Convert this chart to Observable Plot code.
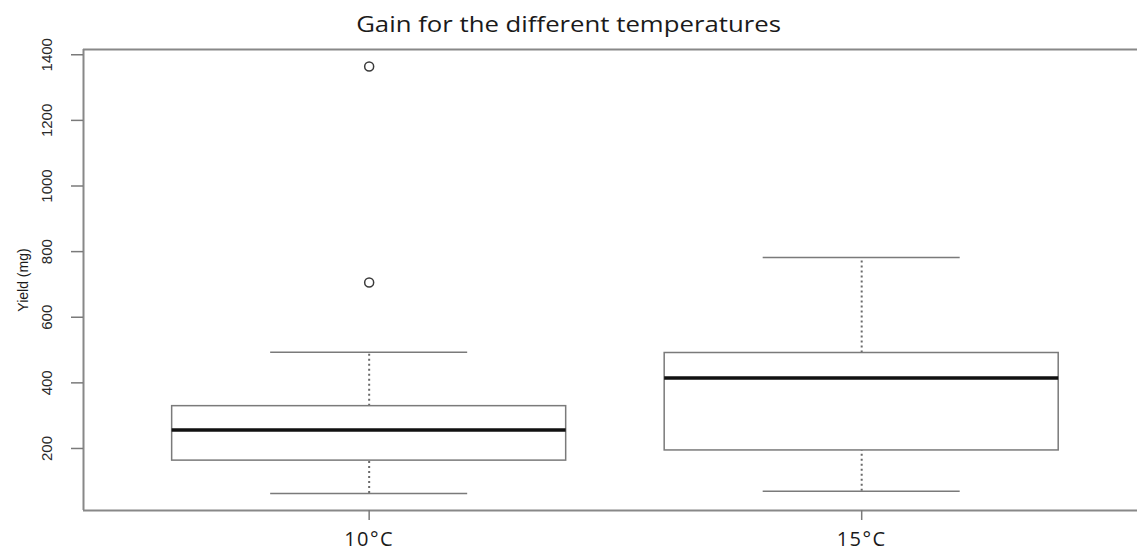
<!DOCTYPE html>
<html>
<head>
<meta charset="utf-8">
<script src="https://cdn.jsdelivr.net/npm/d3@7"></script>
<script src="https://cdn.jsdelivr.net/npm/@observablehq/plot@0.6"></script>
<style>
  html, body { margin: 0; padding: 0; background: #ffffff; overflow: hidden; }
  #wrap { position: relative; width: 1137px; height: 551px; }
  #title { position: absolute; left: 0; top: 9px; width: 1137px; text-align: center;
           font-family: "Open Sans", sans-serif; font-size: 22px; line-height: 28px; color: #1a1a1a; }
  #title span { display: inline-block; transform: scaleX(1.17); }
  .xlab text { letter-spacing: 1.5px; }
</style>
</head>
<body>
<div id="wrap"><div id="title"><span>Gain for the different temperatures</span></div></div>
<script>
// ---- data ----
const categories    = ["10°C", "15°C"];
const lowerWhisker  = [63, 70];
const q1            = [163, 194];
const median        = [256, 415];
const q3            = [329, 491];
const upperWhisker  = [493, 782];
const outlierGroup  = [1, 1];          // 1-based position of the group
const outlierValue  = [706, 1364];
const yTicks        = [200, 400, 600, 800, 1000, 1200, 1400];
const yLabel        = "Yield (mg)";

// ---- tables built from the arrays ----
const boxes = categories.map((c, i) => ({
  pos: i + 1, cat: c,
  lo: lowerWhisker[i], q1: q1[i], med: median[i], q3: q3[i], hi: upperWhisker[i]
}));
const outliers = outlierValue.map((v, i) => ({pos: outlierGroup[i], v}));

// R-style 4% extension of the data range
const allVals = [...lowerWhisker, ...upperWhisker, ...outlierValue];
const yMin = d3.min(allVals), yMax = d3.max(allVals);
const yPad = (yMax - yMin) * 0.04;
const yDomain = [yMin - yPad, yMax + yPad];
const xDomain = [0.42, 2.56]; // R's 0.5..2.5 extended by 4%, right side cropped by the picture

const lineGray = "#7a7a7a";

const chart = Plot.plot({
  width: 1137,
  height: 551,
  marginTop: 49,
  marginBottom: 41,
  marginLeft: 83,
  marginRight: 0,
  style: {fontFamily: "Liberation Sans, Arial, sans-serif", background: "transparent"},
  x: {domain: xDomain, label: null},
  y: {domain: yDomain, label: null},
  marks: [
    // frame (left, top, bottom)
    Plot.ruleX([xDomain[0]], {y1: yDomain[0], y2: yDomain[1], stroke: "#888", strokeWidth: 2}),
    Plot.ruleY([yDomain[1]], {x1: xDomain[0], x2: xDomain[1], stroke: "#888", strokeWidth: 2}),
    Plot.ruleY([yDomain[0]], {x1: xDomain[0], x2: xDomain[1], stroke: "#888", strokeWidth: 2}),
    // y axis ticks & labels
    Plot.axisY(yTicks, {anchor: "left", tickSize: 12, text: null, stroke: "#7a7a7a", strokeWidth: 1.5, label: null}),
    Plot.text(yTicks, {x: xDomain[0], y: d => d, text: d => String(d), rotate: -90, dx: -36,
      fontSize: 15, fill: "#2a2a2a", textAnchor: "middle"}),
    Plot.text([yLabel], {frameAnchor: "left", rotate: -90, dx: -60, fontSize: 14, fill: "#1a1a1a", textAnchor: "middle"}),
    // x axis
    Plot.axisX(boxes.map(d => d.pos), {anchor: "bottom", tickSize: 10, tickPadding: 11,
      tickFormat: p => categories[p - 1], fontSize: 20, fontFamily: "Open Sans, sans-serif",
      fill: "#1a1a1a", stroke: "#7a7a7a", strokeWidth: 1.5, label: null, className: "xlab"}),
    // whiskers (dotted)
    Plot.ruleX(boxes, {x: "pos", y1: "q3", y2: "hi", stroke: "#6a6a6a", strokeWidth: 2, strokeDasharray: "2,3"}),
    Plot.ruleX(boxes, {x: "pos", y1: "lo", y2: "q1", stroke: "#6a6a6a", strokeWidth: 2, strokeDasharray: "2,3"}),
    // whisker caps
    Plot.ruleY(boxes, {y: "hi", x1: d => d.pos - 0.2, x2: d => d.pos + 0.2, stroke: lineGray, strokeWidth: 1.5}),
    Plot.ruleY(boxes, {y: "lo", x1: d => d.pos - 0.2, x2: d => d.pos + 0.2, stroke: lineGray, strokeWidth: 1.5}),
    // boxes
    Plot.rect(boxes, {x1: d => d.pos - 0.4, x2: d => d.pos + 0.4, y1: "q1", y2: "q3",
      fill: "white", stroke: lineGray, strokeWidth: 1.5}),
    // medians
    Plot.ruleY(boxes, {y: "med", x1: d => d.pos - 0.4, x2: d => d.pos + 0.4, stroke: "#111", strokeWidth: 3.5}),
    // outliers
    Plot.dot(outliers, {x: "pos", y: "v", r: 4.5, stroke: "#3a3a3a", strokeWidth: 1.5, fill: "none"})
  ]
});
document.getElementById("wrap").appendChild(chart);
</script>
</body>
</html>
